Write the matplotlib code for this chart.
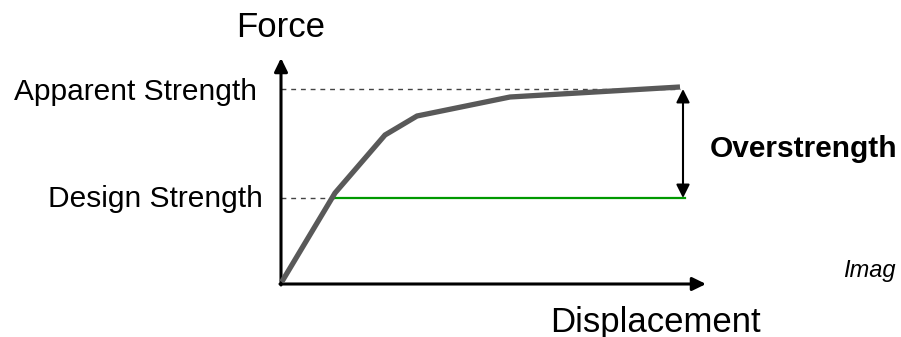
import matplotlib
matplotlib.use("Agg")
import matplotlib.pyplot as plt

# Data (schematic pushover curve, arbitrary units)
displacement = [0.7, 54, 104, 136, 229, 399]
force = [2, 91, 149, 168, 187, 197]
apparent_strength = 195
design_strength = 86
design_x_start = 54
design_x_end = 404
overstrength_x = 402
x_axis_end = 425
y_axis_end = 226

plt.rcParams['font.family'] = ['Liberation Sans', 'DejaVu Sans']

fig = plt.figure(figsize=(9.01, 3.37), dpi=100)
ax = fig.add_axes([0, 0, 1, 1])
ax.set_xlim(-281, 620)
ax.set_ylim(-53, 284)
ax.axis('off')

# Axes arrows
ax.annotate('', xy=(x_axis_end, 0), xytext=(-1, 0),
            arrowprops=dict(arrowstyle='-|>,head_length=0.45,head_width=0.22', lw=2.2,
                            color='black', shrinkA=0, shrinkB=0, mutation_scale=18))
ax.annotate('', xy=(0, y_axis_end), xytext=(0, -1),
            arrowprops=dict(arrowstyle='-|>,head_length=0.45,head_width=0.22', lw=2.2,
                            color='black', shrinkA=0, shrinkB=0, mutation_scale=18))

# Dashed reference lines
ax.plot([0, displacement[-1]], [apparent_strength, apparent_strength], ls=(0, (3.5, 3.5)),
        color='#444444', lw=1.0, zorder=2)
ax.plot([0, design_x_start], [design_strength, design_strength], ls=(0, (3.5, 3.5)),
        color='#444444', lw=1.0, zorder=2)

# Design strength line
ax.plot([design_x_start, design_x_end], [design_strength, design_strength],
        color='#009900', lw=1.6, zorder=3)

# Curve
ax.plot(displacement, force, color='#595959', lw=3.8, solid_joinstyle='miter',
        solid_capstyle='butt', zorder=4)

# Overstrength arrow
ax.annotate('', xy=(overstrength_x, apparent_strength), xytext=(overstrength_x, design_strength),
            arrowprops=dict(arrowstyle='<|-|>,head_length=0.5,head_width=0.25', lw=1.5,
                            color='black', shrinkA=0, shrinkB=0, mutation_scale=16))

# Labels
ax.text(0, 247, 'Force', fontsize=25, ha='center', va='baseline')
ax.text(269, -47.7, 'Displacement', fontsize=25, ha='left', va='baseline')
ax.text(-24, 184, 'Apparent Strength', fontsize=21.5, ha='right', va='baseline')
ax.text(-18, 77, 'Design Strength', fontsize=21.5, ha='right', va='baseline')
ax.text(429, 127, 'Overstrength', fontsize=21.5, fontweight='bold', ha='left', va='baseline')
ax.text(562, 7, 'Imag', fontsize=17, style='italic', ha='left', va='baseline')

fig.savefig('out.png', dpi=100)
